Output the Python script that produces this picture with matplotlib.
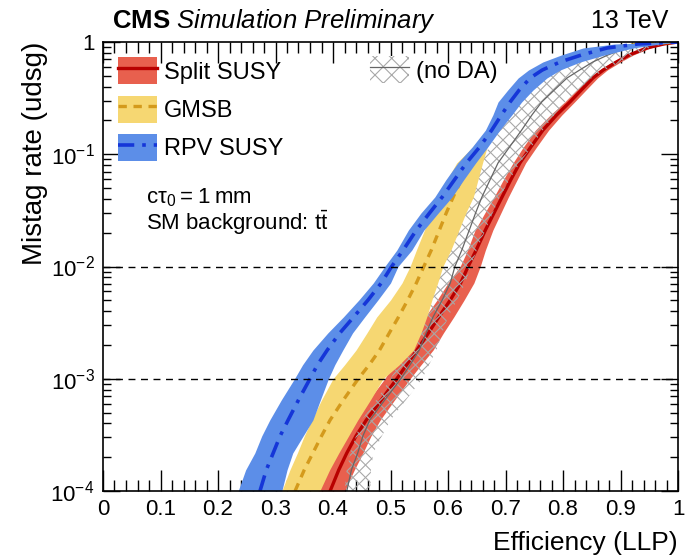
import numpy as np
import matplotlib
matplotlib.use("Agg")
import matplotlib.pyplot as plt
from matplotlib.patches import Patch
from matplotlib.lines import Line2D
from matplotlib.collections import LineCollection
from matplotlib.ticker import LogLocator, MultipleLocator, FixedLocator, FuncFormatter, NullFormatter

plt.rcParams['font.family'] = ['Liberation Sans', 'DejaVu Sans']
plt.rcParams['mathtext.fontset'] = 'custom'
plt.rcParams['mathtext.rm'] = 'Liberation Sans'
plt.rcParams['mathtext.it'] = 'Liberation Sans:italic'
plt.rcParams['mathtext.bf'] = 'Liberation Sans:bold'
plt.rcParams['hatch.linewidth'] = 0.8

# mistag rate (y) grid shared by all curves
mistag = [1e-4, 1.54e-4, 2.18e-4, 3.09e-4, 4.29e-4, 6.47e-4, 1e-3, 1.33e-3, 1.8e-3, 2.56e-3,
          3.55e-3, 5.03e-3, 7.13e-3, 1e-2, 1.4e-2, 2.11e-2, 3.0e-2, 4.16e-2, 5.9e-2, 8.36e-2,
          0.116, 0.164, 0.224, 0.292, 0.374, 0.478, 0.563, 0.664, 0.766, 0.885, 0.96, 1.0]

# RPV SUSY efficiency: central, lower, upper
rpv_c  = [0.273, 0.284, 0.296, 0.308, 0.322, 0.340, 0.360, 0.373, 0.390, 0.412, 0.436, 0.461, 0.484, 0.502, 0.522, 0.545,
          0.568, 0.590, 0.611, 0.632, 0.655, 0.676, 0.693, 0.708, 0.724, 0.743, 0.764, 0.795, 0.832, 0.877, 0.930, 1.0]
rpv_lo = [0.235, 0.248, 0.264, 0.276, 0.290, 0.310, 0.333, 0.347, 0.365, 0.391, 0.418, 0.445, 0.470, 0.490, 0.511, 0.531,
          0.553, 0.577, 0.596, 0.617, 0.642, 0.665, 0.678, 0.687, 0.704, 0.722, 0.740, 0.765, 0.797, 0.835, 0.890, 0.99]
rpv_hi = [0.311, 0.320, 0.330, 0.348, 0.365, 0.378, 0.392, 0.403, 0.417, 0.434, 0.455, 0.478, 0.500, 0.513, 0.537, 0.558,
          0.583, 0.607, 0.627, 0.648, 0.669, 0.690, 0.711, 0.728, 0.748, 0.772, 0.795, 0.830, 0.872, 0.922, 0.970, 1.0]

# GMSB
gmsb_c  = [0.334, 0.350, 0.365, 0.380, 0.395, 0.418, 0.444, 0.463, 0.481, 0.498, 0.514, 0.530, 0.545, 0.558, 0.571, 0.585,
           0.597, 0.609, 0.623, 0.638, 0.655, 0.674, 0.692, 0.707, 0.723, 0.742, 0.763, 0.794, 0.832, 0.878, 0.935, 1.0]
gmsb_lo = [0.311, 0.325, 0.338, 0.350, 0.363, 0.380, 0.400, 0.420, 0.440, 0.459, 0.476, 0.500, 0.520, 0.534, 0.545, 0.559,
           0.571, 0.583, 0.598, 0.615, 0.643, 0.667, 0.684, 0.699, 0.714, 0.732, 0.751, 0.780, 0.815, 0.858, 0.915, 0.99]
gmsb_hi = [0.377, 0.394, 0.410, 0.427, 0.443, 0.465, 0.487, 0.515, 0.540, 0.553, 0.563, 0.572, 0.582, 0.591, 0.605, 0.619,
           0.631, 0.644, 0.652, 0.660, 0.668, 0.682, 0.700, 0.716, 0.733, 0.754, 0.776, 0.810, 0.850, 0.900, 0.955, 1.0]

# Split SUSY
split_c  = [0.395, 0.410, 0.424, 0.440, 0.458, 0.484, 0.511, 0.528, 0.546, 0.566, 0.584, 0.604, 0.622, 0.635, 0.649, 0.665,
            0.680, 0.694, 0.709, 0.725, 0.744, 0.765, 0.789, 0.812, 0.832, 0.852, 0.870, 0.893, 0.915, 0.946, 0.975, 1.0]
split_lo = [0.374, 0.390, 0.405, 0.419, 0.435, 0.462, 0.490, 0.505, 0.522, 0.541, 0.560, 0.581, 0.600, 0.621, 0.634, 0.647,
            0.664, 0.680, 0.696, 0.713, 0.731, 0.752, 0.778, 0.803, 0.824, 0.845, 0.863, 0.886, 0.908, 0.940, 0.970, 0.995]
split_hi = [0.420, 0.437, 0.452, 0.466, 0.482, 0.507, 0.534, 0.553, 0.574, 0.592, 0.610, 0.628, 0.645, 0.656, 0.665, 0.678,
            0.692, 0.705, 0.720, 0.735, 0.754, 0.775, 0.798, 0.820, 0.840, 0.860, 0.877, 0.900, 0.922, 0.952, 0.980, 1.0]

# no DA (hatched band)
noda_c  = [0.424, 0.432, 0.443, 0.452, 0.464, 0.490, 0.518, 0.534, 0.550, 0.562, 0.574, 0.590, 0.604, 0.612, 0.624, 0.637,
           0.648, 0.659, 0.673, 0.687, 0.707, 0.728, 0.746, 0.763, 0.785, 0.807, 0.829, 0.852, 0.878, 0.910, 0.950, 1.0]
noda_lo = [0.420, 0.424, 0.430, 0.440, 0.450, 0.475, 0.500, 0.513, 0.525, 0.533, 0.540, 0.560, 0.575, 0.585, 0.595, 0.605,
           0.617, 0.630, 0.642, 0.655, 0.672, 0.690, 0.710, 0.728, 0.746, 0.765, 0.785, 0.807, 0.835, 0.870, 0.920, 0.99]
noda_hi = [0.465, 0.466, 0.470, 0.485, 0.500, 0.527, 0.555, 0.567, 0.580, 0.590, 0.600, 0.616, 0.630, 0.640, 0.650, 0.665,
           0.678, 0.690, 0.707, 0.725, 0.745, 0.765, 0.785, 0.803, 0.826, 0.850, 0.873, 0.900, 0.925, 0.950, 0.975, 1.0]

xticks = [0, 0.1, 0.2, 0.3, 0.4, 0.5, 0.6, 0.7, 0.8, 0.9, 1]
ref_lines = [1e-2, 1e-3]

RED_F, RED_L = '#e8604e', '#b80000'
GOLD_F, GOLD_L = '#f6d772', '#d49a1c'
BLUE_F, BLUE_L = '#5c8ee8', '#1536d8'
HATCH = '#a8a8a8'
GRAYL = '#666666'
GOLD_LS = (0, (2.5, 2.0))
BLUE_LS = (0, (4.5, 2.2, 1.0, 2.2))

W, H = 691, 559
AX_W, AX_H = 575, 449
fig = plt.figure(figsize=(W/100, H/100), dpi=100)
ax = fig.add_axes([103/W, 1-491/H, AX_W/W, AX_H/H])
ax.set_yscale('log')
ax.set_xlim(0, 1)
ax.set_ylim(1e-4, 1)

# Split SUSY
ax.fill_betweenx(mistag, split_lo, split_hi, color=RED_F, lw=0, zorder=2)
ax.plot(split_c, mistag, color=RED_L, lw=2.4, zorder=3)

# no DA: hatched band (cross-hatch lines clipped to the band)
band = ax.fill_betweenx(mistag, noda_lo, noda_hi, facecolor='none', lw=0, zorder=4)
step = 12.5
segs = []
for c in np.arange(-AX_W - AX_H, AX_W + AX_H, step):
    segs.append([(-20/AX_W, (c - 20)/AX_H), ((AX_W + 20)/AX_W, (c + AX_W + 20)/AX_H)])
    segs.append([(-20/AX_W, (c + 20)/AX_H), ((AX_W + 20)/AX_W, (c - AX_W - 20)/AX_H)])
lc = LineCollection(segs, colors=HATCH, linewidths=0.8, transform=ax.transAxes, zorder=4)
ax.add_collection(lc, autolim=False)
lc.set_clip_path(band.get_paths()[0], ax.transData)
ax.plot(noda_c, mistag, color=GRAYL, lw=0.9, zorder=4)

# GMSB
ax.fill_betweenx(mistag, gmsb_lo, gmsb_hi, color=GOLD_F, lw=0, zorder=5)
ax.plot(gmsb_c, mistag, color=GOLD_L, lw=2.4, ls=GOLD_LS, zorder=6)

# RPV SUSY
ax.fill_betweenx(mistag, rpv_lo, rpv_hi, color=BLUE_F, lw=0, zorder=7)
ax.plot(rpv_c, mistag, color=BLUE_L, lw=2.6, ls=BLUE_LS, zorder=8)

for r in ref_lines:
    ax.axhline(r, color='black', lw=1.0, ls=(0, (5, 4)), zorder=9)

# ticks
ax.xaxis.set_major_locator(FixedLocator(xticks))
ax.xaxis.set_minor_locator(MultipleLocator(0.02))
ax.xaxis.set_major_formatter(FuncFormatter(lambda v, p: '0' if v == 0 else ('1' if v == 1 else f'{v:.1f}')))
ax.yaxis.set_major_locator(LogLocator(base=10, numticks=10))
ax.yaxis.set_minor_locator(LogLocator(base=10, subs=np.arange(2, 10), numticks=20))
ax.yaxis.set_minor_formatter(NullFormatter())
ax.yaxis.set_major_formatter(FuncFormatter(lambda v, p: '1' if abs(v-1) < 1e-9 else r'$10^{%d}$' % round(np.log10(v))))
ax.tick_params(which='both', direction='in', top=True, right=True, width=1.0, labelsize=16, pad=6)
ax.tick_params(axis='x', which='major', length=15)
ax.tick_params(axis='x', which='minor', length=8)
ax.tick_params(axis='y', which='major', length=12)
ax.tick_params(axis='y', which='minor', length=6)
for s in ax.spines.values():
    s.set_linewidth(1.2)
    s.set_zorder(10)

ax.set_xlabel('Efficiency (LLP)', fontsize=19, loc='right', labelpad=8)
ax.set_ylabel('Mistag rate (udsg)', fontsize=20, loc='top', labelpad=2)

# legends
h1 = [(Patch(facecolor=RED_F, lw=0), Line2D([], [], color=RED_L, lw=2.4)),
      (Patch(facecolor=GOLD_F, lw=0), Line2D([], [], color=GOLD_L, lw=2.4, ls=GOLD_LS)),
      (Patch(facecolor=BLUE_F, lw=0), Line2D([], [], color=BLUE_L, lw=2.6, ls=BLUE_LS))]
leg1 = ax.legend(h1, ['Split SUSY', 'GMSB', 'RPV SUSY'], loc='upper left',
                 bbox_to_anchor=(0.026, 0.966), frameon=False, fontsize=17,
                 handlelength=1.65, handleheight=1.38, labelspacing=0.48,
                 handletextpad=0.3, borderpad=0, borderaxespad=0)
ax.add_artist(leg1)
h2 = [(Patch(facecolor='white', edgecolor=HATCH, hatch='xx', lw=0), Line2D([], [], color=GRAYL, lw=0.9))]
ax.legend(h2, ['(no DA)'], loc='upper left', bbox_to_anchor=(0.464, 0.968), frameon=False,
          fontsize=17, handlelength=1.65, handleheight=1.38, handletextpad=0.3,
          borderpad=0, borderaxespad=0)

ax.text(0.075, 0.641, 'c$\\mathrm{\\tau}_{0}$\u2009=\u20091\u2009mm', transform=ax.transAxes, fontsize=16, va='baseline')
ax.text(0.075, 0.581, r'SM background: t$\bar{\mathrm{t}}$', transform=ax.transAxes, fontsize=16, va='baseline')

fig.text(112/W, 1-28/H, r'$\mathbf{CMS}$ $\mathit{Simulation\ Preliminary}$', fontsize=18.5, va='baseline')
fig.text(668/W, 1-28/H, '13 TeV', fontsize=18, va='baseline', ha='right')

fig.savefig('out.png', dpi=100)
